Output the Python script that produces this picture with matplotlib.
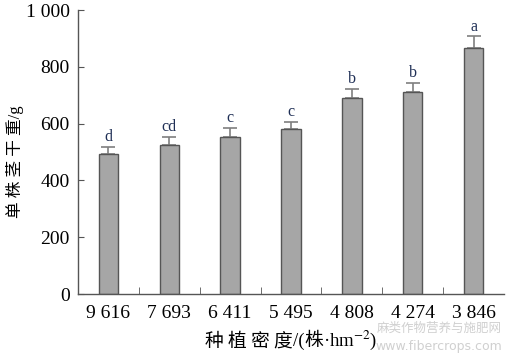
import matplotlib
matplotlib.use("Agg")
import matplotlib.pyplot as plt
import numpy as np

# data
densities = ["9 616", "7 693", "6 411", "5 495", "4 808", "4 274", "3 846"]
weights = [493, 525, 553, 580, 689, 710, 865]
errors = [26, 28, 31, 27, 34, 34, 42]
letters = ["d", "cd", "c", "c", "b", "b", "a"]
yticks = [0, 200, 400, 600, 800, 1000]
ytick_labels = ["0", "200", "400", "600", "800", "1 000"]

plt.rcParams["mathtext.fontset"] = "stix"
serif = ["Liberation Serif", "DejaVu Serif"]
cjk = ["Noto Sans CJK SC", "DejaVu Sans"]
mixed = ["Liberation Serif", "Noto Sans CJK SC", "DejaVu Sans"]

fig = plt.figure(figsize=(5.07, 3.59), dpi=100)
ax = fig.add_axes([0.154, 0.181, 0.840, 0.791])

x = np.arange(len(densities))
ax.bar(x, weights, width=0.32, color="#a6a6a6", edgecolor="#555555", linewidth=1.0, zorder=2)
ax.errorbar(x, weights, yerr=[np.zeros(len(errors)), errors], fmt="none",
            ecolor="#7f7f7f", elinewidth=1.2, capsize=5, capthick=1.2, zorder=1)

for xi, w, e, lab in zip(x, weights, errors, letters):
    ax.text(xi, w + e + 6, lab, ha="center", va="bottom", fontsize=11.5,
            family=serif, color="#1f2f55")

ax.set_xlim(-0.5, 6.5)
ax.set_ylim(0, 1000)
ax.set_yticks(yticks)
ax.set_yticklabels(ytick_labels, family=serif, fontsize=14)
ax.set_xticks(x)
ax.set_xticklabels(densities, family=serif, fontsize=14)
ax.tick_params(axis="x", length=0, pad=8)
ax.set_xticks(x[:-1] + 0.5, minor=True)
ax.tick_params(axis="x", which="minor", direction="in", length=5, color="#555555")
ax.tick_params(axis="y", direction="in", length=4, color="#555555", pad=6)

for side in ["top", "right"]:
    ax.spines[side].set_visible(False)
for side in ["left", "bottom"]:
    ax.spines[side].set_color("#555555")
    ax.spines[side].set_linewidth(1.0)

fig.text(0.03, 0.55, "单 株 茎 干 重/g", rotation=90, ha="center", va="center",
         fontsize=12, family=mixed)

# x label: chinese pieces and serif pieces placed one after another
pieces = [("种 植 密 度", cjk), ("/(", serif), ("株", cjk), ("·hm$^{-2}$)", serif)]
renderer = fig.canvas.get_renderer()
texts = []
for s, fam in pieces:
    texts.append(fig.text(0, 0.036, s, ha="left", va="baseline", fontsize=13.5, family=fam))
widths = [t.get_window_extent(renderer).width / fig.bbox.width for t in texts]
x0 = 0.575 - sum(widths) / 2
for t, w in zip(texts, widths):
    t.set_x(x0)
    x0 += w

fig.text(0.99, 0.085, "麻类作物营养与施肥网", ha="right", va="center",
         fontsize=9, family=cjk, color="#d0d0d0")
fig.text(0.99, 0.035, "www.fibercrops.com", ha="right", va="center",
         fontsize=9, family=["DejaVu Sans"], color="#d0d0d0")

fig.savefig("out.png", dpi=100)
